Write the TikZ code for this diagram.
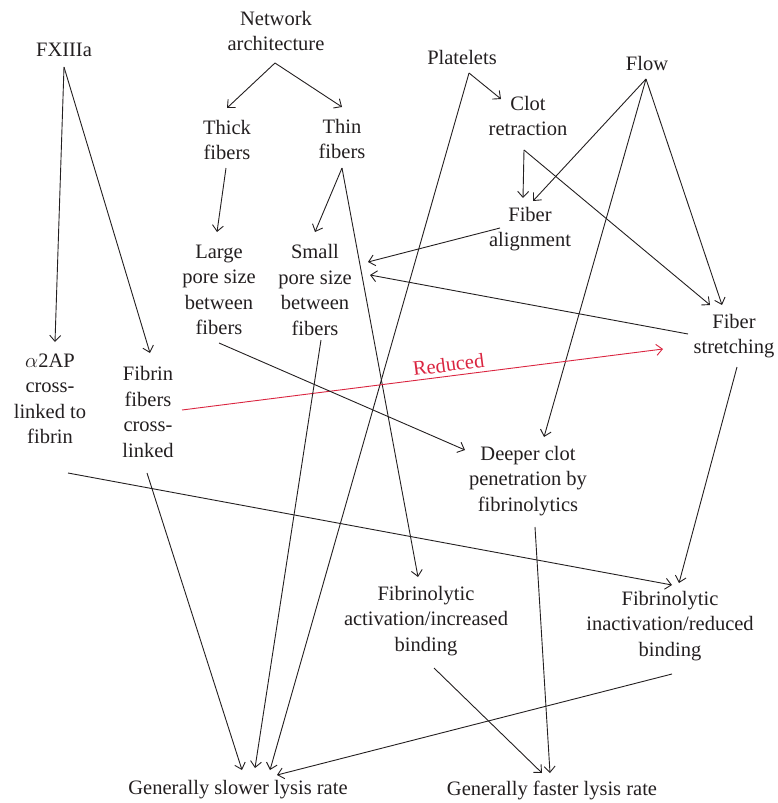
\documentclass[tikz,border=0pt]{standalone}
\usepackage{fontspec}
\setmainfont{Liberation Serif}
\usetikzlibrary{arrows.meta}
\definecolor{ink}{RGB}{35,31,32}
\definecolor{redline}{RGB}{218,37,64}
\begin{document}
\begin{tikzpicture}[x=1pt,y=-1pt,
  lab/.style={align=center,font=\fontsize{20.5}{25.5}\selectfont,text=ink,inner sep=0pt},
  conn/.style={draw=ink,line width=0.9pt,-{Straight Barb[length=6pt,width=11pt]}},
  redconn/.style={draw=redline,line width=0.9pt,-{Straight Barb[length=6pt,width=11pt]}}]
\useasboundingbox (0,0) rectangle (777,803);
% nodes
\node[lab] (fx) at (64,50) {FXIIIa};
\node[lab] (net) at (276,31) {Network\\architecture};
\node[lab] (thick) at (227,140) {Thick\\fibers};
\node[lab] (thin) at (342,139) {Thin\\fibers};
\node[lab] (large) at (219,290) {Large\\pore size\\between\\fibers};
\node[lab] (small) at (315,290) {Small\\pore size\\between\\fibers};
\node[lab] (a2ap) at (50,399) {$\alpha$2AP\\cross-\\linked to\\fibrin};
\node[lab] (fibrin) at (148,412) {Fibrin\\fibers\\cross-\\linked};
\node[lab] (plat) at (462,57) {Platelets};
\node[lab] (clot) at (528,116) {Clot\\retraction};
\node[lab] (flow) at (647,63) {Flow};
\node[lab] (align) at (530,229) {Fiber\\alignment};
\node[lab] (stretch) at (734,336) {Fiber\\stretching};
\node[lab] (deeper) at (528,481) {Deeper clot\\penetration by\\fibrinolytics};
\node[lab] (act) at (426,621) {Fibrinolytic\\activation/increased\\binding};
\node[lab] (inact) at (670,626) {Fibrinolytic\\inactivation/reduced\\binding};
\node[lab] (slow) at (238,790) {Generally slower lysis rate};
\node[lab] (fast) at (552,790) {Generally faster lysis rate};
% connectors
\draw[conn] ([shift={(-1,32)}]net.center) -- ([shift={(0,-32)}]thick.center);
\draw[conn] ([shift={(-1,32)}]net.center) -- ([shift={(0,-32)}]thin.center);
\draw[conn] ([shift={(-1,28)}]thick.center) -- ([shift={(-2,-58)}]large.center);
\draw[conn] ([shift={(0,29)}]thin.center) -- ([shift={(0,-58)}]small.center);
\draw[conn] ([shift={(0,29)}]thin.center) -- ([shift={(-8,-44)}]act.center);
\draw[conn] ([shift={(0,17)}]fx.center) -- ([shift={(5,-57)}]a2ap.center);
\draw[conn] ([shift={(0,17)}]fx.center) -- ([shift={(2,-59)}]fibrin.center);
\draw[conn] ([shift={(7,16)}]plat.center) -- ([shift={(-27,-17)}]clot.center);
\draw[conn] ([shift={(7,16)}]plat.center) -- ([shift={(32,-20)}]slow.center);
\draw[conn] ([shift={(-4,34)}]clot.center) -- ([shift={(-7,-31)}]align.center);
\draw[conn] ([shift={(-4,34)}]clot.center) -- ([shift={(-24,-31)}]stretch.center);
\draw[conn] ([shift={(-1,16)}]flow.center) -- ([shift={(3,-28)}]align.center);
\draw[conn] ([shift={(-1,16)}]flow.center) -- ([shift={(16,-44)}]deeper.center);
\draw[conn] ([shift={(-1,16)}]flow.center) -- ([shift={(-12,-31)}]stretch.center);
\draw[conn] ([shift={(-30,-1)}]align.center) -- ([shift={(53,-28)}]small.center);
\draw[conn] ([shift={(-46,-2)}]stretch.center) -- ([shift={(55,-15)}]small.center);
\draw[redconn] ([shift={(34,-2)}]fibrin.center) -- node[sloped,above,pos=0.557,inner sep=4pt,text=redline,font=\fontsize{20.5}{24}\selectfont]{Reduced} ([shift={(-71,13)}]stretch.center);
\draw[conn] ([shift={(0,53)}]large.center) -- ([shift={(-63,-31)}]deeper.center);
\draw[conn] ([shift={(18,74)}]a2ap.center) -- ([shift={(2,-41)}]inact.center);
\draw[conn] ([shift={(-1,61)}]fibrin.center) -- ([shift={(4,-20)}]slow.center);
\draw[conn] ([shift={(6,50)}]small.center) -- ([shift={(17,-22)}]slow.center);
\draw[conn] ([shift={(3,31)}]stretch.center) -- ([shift={(9,-43)}]inact.center);
\draw[conn] ([shift={(7,46)}]deeper.center) -- ([shift={(-2,-17)}]fast.center);
\draw[conn] ([shift={(8,47)}]act.center) -- ([shift={(-10,-17)}]fast.center);
\draw[conn] ([shift={(2,48)}]inact.center) -- ([shift={(39,-15)}]slow.center);
\end{tikzpicture}
\end{document}
